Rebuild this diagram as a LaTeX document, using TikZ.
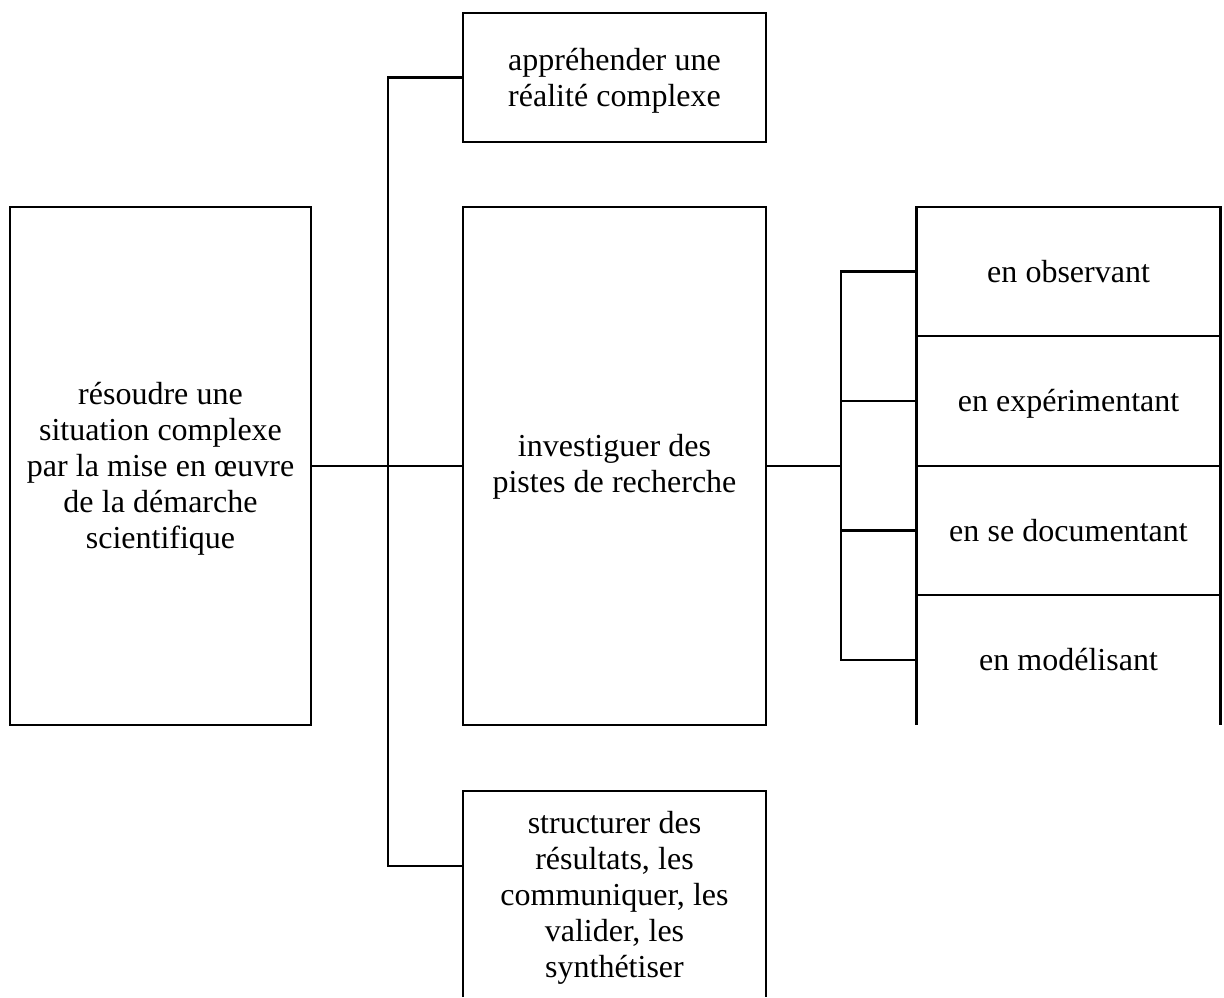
\documentclass[tikz,border=0pt]{standalone}
\usepackage{fontspec}
\setmainfont{Liberation Serif}
\newcommand\diaglblfont{\fontsize{32pt}{36.2pt}\selectfont}
\newcommand\diagtxt[1]{\spaceskip=8.2pt\relax #1}
\begin{document}
\begin{tikzpicture}[x=1pt,y=-1pt,
  line width=2.2pt,
  every node/.style={font=\diaglblfont, inner sep=0pt, outer sep=0pt, align=center},
  box/.style={draw, rectangle, minimum width=#1},
  box/.default=303pt,
  cell/.style={rectangle, minimum width=304pt, minimum height=129.5pt},
  lbl/.style={text width=295pt, anchor=base}]
\useasboundingbox (0,0) rectangle (1224,997);
% main boxes
\node[box=301pt, minimum height=518pt] (L) at (160.5,466) {};
\node[lbl] (Lt) at (160.5,404) {\diagtxt{résoudre une\\ situation complexe\\ par la mise en œuvre\\ de la démarche\\ scientifique}};
\node[box, minimum height=129pt] (T) at (614.5,77.5) {};
\node[lbl] (Tt) at (614.5,70.5) {\diagtxt{appréhender une\\ réalité complexe}};
\node[box, minimum height=518pt] (M) at (614.5,466) {};
\node[lbl] (Mt) at (614.5,456) {\diagtxt{investiguer des\\ pistes de recherche}};
% bottom box (open at the bottom)
\node[rectangle, minimum width=303pt, minimum height=206pt, anchor=north] (B) at (614.5,791) {};
\draw (B.south west) -- (B.north west) -- (B.north east) -- (B.south east);
\node[lbl] (Bt) at (614.5,833) {\diagtxt{structurer des\\ résultats, les\\ communiquer, les\\ valider, les\\ synthétiser}};
% right stack
\node[cell, draw] (C1) at (1068.5,271.5) {};
\node[cell, draw] (C2) at (1068.5,401) {};
\node[cell, draw] (C3) at (1068.5,530.5) {};
\node[cell] (C4) at (1068.5,660) {};
\draw (C4.south west) -- (C4.north west) -- (C4.north east) -- (C4.south east);
\node[lbl] (C1t) at (1068.5,282) {\diagtxt{en observant}};
\node[lbl] (C2t) at (1068.5,411.5) {\diagtxt{en expérimentant}};
\node[lbl] (C3t) at (1068.5,541) {\diagtxt{en se documentant}};
\node[lbl] (C4t) at (1068.5,670.5) {\diagtxt{en modélisant}};
% connectors
\coordinate (bus) at (388,466);
\coordinate (bbot) at (388,866);
\coordinate (rb) at (841,466);
\draw (L.east) -- (M.west);
\draw (T.west) -- (T.west -| bus) -- (bbot) -- (bbot -| B.west);
\draw (M.east) -- (rb);
\draw (C1.west) -- (C1.west -| rb) -- (C4.west -| rb) -- (C4.west);
\draw (C2.west) -- (C2.west -| rb);
\draw (C3.west) -- (C3.west -| rb);
\end{tikzpicture}
\end{document}
